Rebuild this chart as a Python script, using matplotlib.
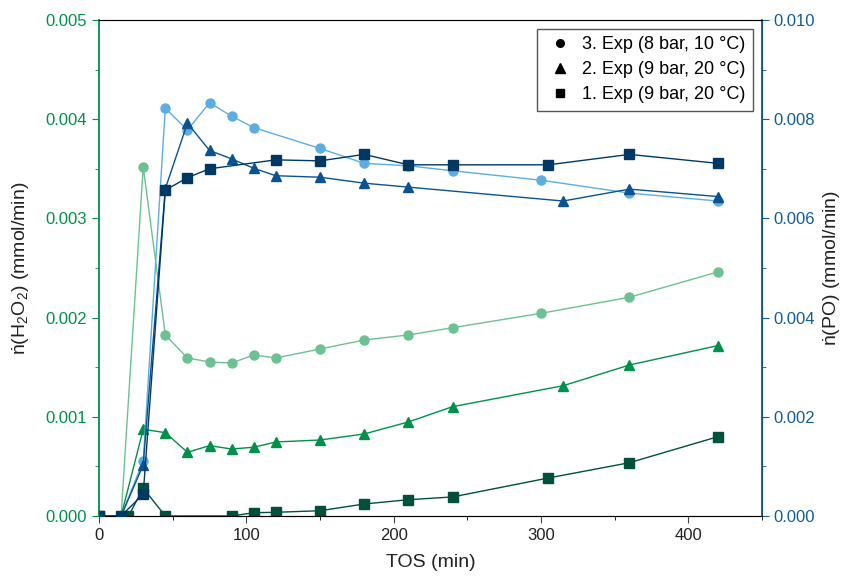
import matplotlib.pyplot as plt
from matplotlib.lines import Line2D
from matplotlib.ticker import MultipleLocator

plt.rcParams['font.family'] = ['Liberation Sans', 'DejaVu Sans']
plt.rcParams['mathtext.fontset'] = 'custom'
plt.rcParams['mathtext.rm'] = 'Liberation Sans'
plt.rcParams['mathtext.it'] = 'Liberation Sans:italic'

# Exp 3 (8 bar, 10 C) - circles
t3_h2o2 = [0, 15, 30, 45, 60, 75, 90, 105, 120, 150, 180, 210, 240, 300, 360, 420]
h2o2_3 = [0, 0, 0.00352, 0.001825, 0.001593, 0.001552, 0.001542, 0.001623, 0.001593,
          0.001683, 0.001774, 0.001825, 0.001898, 0.002043, 0.002205, 0.00246]
t3_po = [0, 15, 30, 45, 60, 75, 90, 105, 150, 180, 210, 240, 300, 360, 420]
po_3 = [0, 0, 0.00111, 0.00822, 0.00778, 0.00833, 0.00806, 0.00783,
        0.00741, 0.00711, 0.00706, 0.00696, 0.00677, 0.00651, 0.00635]

# Exp 2 (9 bar, 20 C) - triangles
t2 = [0, 15, 30, 45, 60, 75, 90, 105, 120, 150, 180, 210, 240, 315, 360, 420]
h2o2_2 = [0, 0, 0.000874, 0.00084, 0.000642, 0.000709, 0.000675, 0.000693, 0.000746,
          0.000766, 0.000827, 0.000948, 0.001102, 0.001313, 0.001522, 0.001717]
t2_po = [0, 15, 30, 45, 60, 75, 90, 105, 120, 150, 180, 210, 315, 360, 420]
po_2 = [0, 0, 0.00103, 0.0066, 0.00792, 0.00737, 0.0072, 0.00701, 0.00686,
        0.00683, 0.00671, 0.00663, 0.00635, 0.00659, 0.00644]

# Exp 1 (9 bar, 20 C) - squares
t1_h2o2 = [0, 20, 30, 45, 90, 105, 120, 150, 180, 210, 240, 305, 360, 420]
h2o2_1 = [0, 0, 0.00028, 0, 0, 0.000033, 0.000037, 0.000053, 0.000121, 0.000164,
          0.000192, 0.000383, 0.000537, 0.000799]
t1_po = [0, 15, 30, 45, 60, 75, 120, 150, 180, 210, 240, 305, 360, 420]
po_1 = [0, 0, 0.00044, 0.00657, 0.00682, 0.0070, 0.00718, 0.00716, 0.00729,
        0.00708, 0.00708, 0.00708, 0.00729, 0.00711]

c_lgreen = '#6cc193'
c_green = '#00904a'
c_dgreen = '#00503c'
c_lblue = '#5dade2'
c_blue = '#0a5290'
c_navy = '#003864'
left_col = '#00904a'
right_col = '#135c96'

fig = plt.figure(figsize=(8.42, 5.76), dpi=100)
ax = fig.add_axes([0.1176, 0.1042, 0.7874, 0.8611])
ax2 = ax.twinx()

ms = 6.5
lw = 1.0
ax.plot(t3_h2o2, h2o2_3, '-o', color=c_lgreen, ms=ms, lw=lw, zorder=3)
ax.plot(t2, h2o2_2, '-^', color=c_green, ms=ms + 1, lw=lw, zorder=3)
ax.plot(t1_h2o2, h2o2_1, '-s', color=c_dgreen, ms=ms, lw=lw, zorder=3)
ax2.plot(t3_po, po_3, '-o', color=c_lblue, ms=ms, lw=lw, zorder=3)
ax2.plot(t2_po, po_2, '-^', color=c_blue, ms=ms + 1, lw=lw, zorder=3)
ax2.plot(t1_po, po_1, '-s', color=c_navy, ms=ms, lw=lw, zorder=3)

ax.set_xlim(0, 450)
ax.set_ylim(0, 0.005)
ax2.set_ylim(0, 0.010)

ax.xaxis.set_major_locator(MultipleLocator(100))
ax.xaxis.set_minor_locator(MultipleLocator(50))
ax.yaxis.set_major_locator(MultipleLocator(0.001))
ax.yaxis.set_minor_locator(MultipleLocator(0.0005))
ax2.yaxis.set_major_locator(MultipleLocator(0.002))
ax2.yaxis.set_minor_locator(MultipleLocator(0.001))
ax.yaxis.set_major_formatter(plt.FormatStrFormatter('%.3f'))
ax2.yaxis.set_major_formatter(plt.FormatStrFormatter('%.3f'))

for a in (ax, ax2):
    a.tick_params(which='both', direction='out')
    a.tick_params(which='major', length=5, labelsize=12)
    a.tick_params(which='minor', length=3)

ax.spines['left'].set_color(left_col)
ax.spines['left'].set_linewidth(1.3)
ax.tick_params(axis='y', which='both', colors=left_col, labelcolor=left_col)
ax2.spines['right'].set_color(right_col)
ax2.spines['right'].set_linewidth(1.3)
ax2.spines['left'].set_visible(False)
ax2.tick_params(axis='y', which='both', colors=right_col, labelcolor=right_col)
ax.spines['bottom'].set_color('#444444')
ax.spines['top'].set_color('#444444')
ax.tick_params(axis='x', colors='#444444', labelcolor='#222222')

ax.set_xlabel('TOS (min)', fontsize=14, color='#222222', labelpad=8)
ax.set_ylabel(r'$\dot{\mathrm{n}}$(H$_2$O$_2$) (mmol/min)', fontsize=14, color='#222222',
              labelpad=10)
ax2.set_ylabel(r'$\dot{\mathrm{n}}$(PO) (mmol/min)', fontsize=14, color='#222222')

handles = [
    Line2D([], [], ls='none', marker='o', color='black', ms=5.5),
    Line2D([], [], ls='none', marker='^', color='black', ms=6.5),
    Line2D([], [], ls='none', marker='s', color='black', ms=5.5),
]
labels = ['3. Exp (8 bar, 10 \u00b0C)', '2. Exp (9 bar, 20 \u00b0C)', '1. Exp (9 bar, 20 \u00b0C)']
leg = ax2.legend(handles, labels, loc='upper right', fontsize=13, fancybox=False,
                 edgecolor='#555555', framealpha=1, borderaxespad=0.5,
                 handletextpad=0.4, labelspacing=0.45, handlelength=1.7)
leg.get_frame().set_linewidth(1.0)

fig.savefig('out.png', dpi=100)
